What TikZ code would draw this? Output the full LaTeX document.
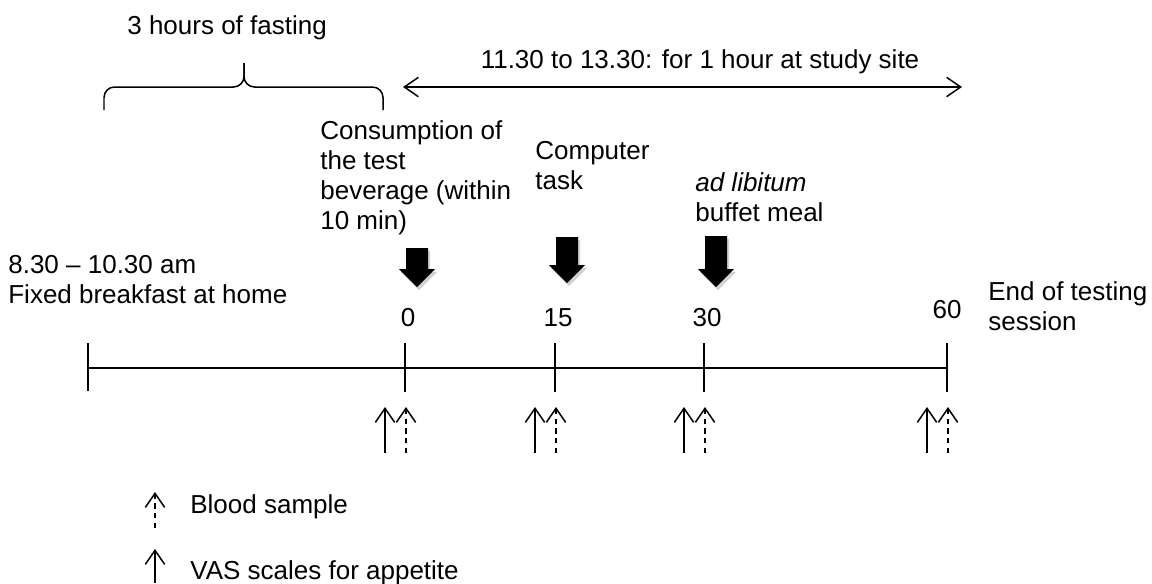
\documentclass[tikz,border=0pt]{standalone}
\usepackage{fontspec}
\setmainfont{Liberation Sans}
\usetikzlibrary{arrows.meta,calc}

\tikzset{
  lbl/.style={ inner sep=0pt, align=left, anchor=west, font=\fontsize{14.8}{17.1}\selectfont }
}
\tikzset{
  axis/.style={ line width=0.85pt }
}
\tikzset{
  vas/.style={ line width=0.85pt, -{Straight Barb[length=8pt,width=11pt]} }
}
\tikzset{
  blood/.style={ vas, dash pattern=on 3pt off 2.5pt }
}
\tikzset{
  span/.style={ line width=0.85pt, {Straight Barb[length=8pt,width=11pt]}-{Straight Barb[length=8pt,width=11pt]} }
}
\tikzset{
  bigarrow/.pic={
    \fill[black, opacity=0.18] (-9,-#1+3) -- (13,-#1+3) -- (13,-15) -- (20,-15) -- (2,3) -- (-16,-15) -- (-9,-15) -- cycle;
    \fill (-11,-#1) -- (11,-#1) -- (11,-18) -- (18,-18) -- (0,0) -- (-18,-18) -- (-11,-18) -- cycle;
  }
}

\begin{document}
\begin{tikzpicture}[x=0.02cm, y=-0.02cm]
  \useasboundingbox (0,0) rectangle (1152,583);

  % fasting brace
  \node[lbl] (fast) at (127,28) {3 hours of fasting};
  \coordinate (bl) at (104,110);
  \coordinate (bm) at (244,63);
  \coordinate (br) at (383,110);
  \draw[axis, rounded corners=6pt] (bl) -- (104,87) -- (244,87) -- (bm);
  \draw[axis, rounded corners=6pt] (br) -- (383,87) -- (244,87) -- (bm);

  % study site span
  \node[lbl, anchor=center] (site) at (700,62) {11.30 to 13.30: for 1 hour at study site};
  \coordinate (s1) at (403,87);
  \coordinate (s2) at (962,87);
  \draw[span] (s1) -- (s2);

  \node[lbl] (drink) at (320,178) {Consumption of\\the test\\beverage (within\\10 min)};
  \node[lbl] (task) at (535,166) {Computer\\task};
  \node[lbl] (meal) at (695,197) {\textit{ad libitum}\\buffet meal};
  \node[lbl] (bfast) at (8,280) {8.30 -- 10.30 am\\Fixed breakfast at home};
  \node[lbl] (end) at (988,306) {End of testing\\session};

  \pic at (417,287) {bigarrow=39};
  \pic at (567,283) {bigarrow=46};
  \pic at (716,287) {bigarrow=51};

  % timeline
  \coordinate (tstart) at (88,368);
  \draw[line width=1.1pt] (88,343) -- (88,391);
  \foreach \x/\n in {405/0, 555/15, 704/30, 947/60} {
    \coordinate (t\n) at (\x,368);
    \draw[axis] (\x,343) -- (\x,392);
    \draw[vas] (\x-20,453) -- (\x-20,407);
    \draw[blood] (\x+1,453) -- (\x+1,407);
  }
  \draw[axis] (tstart) -- (t60);

  \node[lbl, anchor=center] (n0) at (408,318) {0};
  \node[lbl, anchor=center] (n15) at (558,318) {15};
  \node[lbl, anchor=center] (n30) at (707,318) {30};
  \node[lbl, anchor=center] (n60) at (947,310) {60};

  % legend
  \coordinate (lb1) at (155,528);
  \coordinate (lb2) at (155,492);
  \draw[blood] (lb1) -- (lb2);
  \node[lbl] (leg1) at (190,507) {Blood sample};
  \coordinate (lv1) at (155,583);
  \coordinate (lv2) at (155,549);
  \draw[vas] (lv1) -- (lv2);
  \node[lbl] (leg2) at (190,573) {VAS scales for appetite};
\end{tikzpicture}
\end{document}
